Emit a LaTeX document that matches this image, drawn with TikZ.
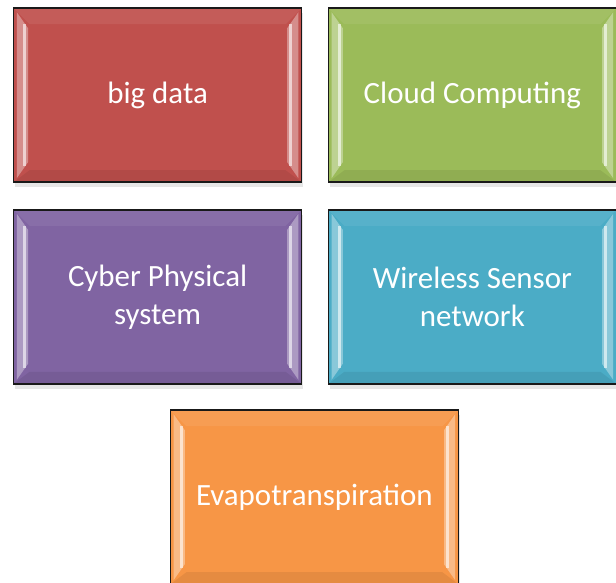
\documentclass[tikz,border=0pt]{standalone}
\usepackage{fontspec}
\setmainfont{Carlito}
\usepackage{tikz}
\usetikzlibrary{shadows}

\definecolor{tileRed}{HTML}{C0504D}
\definecolor{tileGreen}{HTML}{9BBB59}
\definecolor{tilePurple}{HTML}{8064A2}
\definecolor{tileBlue}{HTML}{4BACC6}
\definecolor{tileOrange}{HTML}{F79646}

\begin{document}
\begin{tikzpicture}[
    tile/.style={draw=black!90, line width=1.1pt, minimum width=7.2cm, minimum height=4.35cm,
      align=center, text=white, font=\fontsize{22}{27}\selectfont,
      drop shadow={opacity=0.2, shadow xshift=0.04cm, shadow yshift=-0.12cm},
      path picture={
        % top band
        \fill[white, opacity=0.07] (path picture bounding box.north west) -- (path picture bounding box.north east)
          -- ([shift={(-0.4,-0.4)}]path picture bounding box.north east) -- ([shift={(0.4,-0.4)}]path picture bounding box.north west) -- cycle;
        % left and right bevels
        \fill[white, opacity=0.35] ([shift={(0.08,-0.1)}]path picture bounding box.north west) -- ([shift={(0.36,-0.5)}]path picture bounding box.north west)
          -- ([shift={(0.36,0.5)}]path picture bounding box.south west) -- ([shift={(0.08,0.1)}]path picture bounding box.south west) -- cycle;
        \fill[white, opacity=0.35] ([shift={(-0.08,-0.1)}]path picture bounding box.north east) -- ([shift={(-0.36,-0.5)}]path picture bounding box.north east)
          -- ([shift={(-0.36,0.5)}]path picture bounding box.south east) -- ([shift={(-0.08,0.1)}]path picture bounding box.south east) -- cycle;
        \fill[white, opacity=0.6] ([shift={(0.24,-0.4)}]path picture bounding box.north west) rectangle ([shift={(0.32,0.4)}]path picture bounding box.south west);
        \fill[white, opacity=0.6] ([shift={(-0.24,-0.4)}]path picture bounding box.north east) rectangle ([shift={(-0.32,0.4)}]path picture bounding box.south east);
        % bottom band
        \fill[black, opacity=0.07] (path picture bounding box.south west) -- (path picture bounding box.south east)
          -- ([shift={(-0.4,0.3)}]path picture bounding box.south east) -- ([shift={(0.4,0.3)}]path picture bounding box.south west) -- cycle;
      }}
  ]
    \useasboundingbox (0,0) rectangle (15.4,-14.575);

    \node[tile, fill=tileRed]    (bigdata)  at (3.94,-2.38)  {big data};
    \node[tile, fill=tileGreen]  (cloud)    at (11.81,-2.38) {Cloud Computing};
    \node[tile, fill=tilePurple] (cyber)    at (3.94,-7.42)  {Cyber Physical\\system};
    \node[tile, fill=tileBlue]   (wsn)      at (11.81,-7.42) {Wireless Sensor\\network};
    \node[tile, fill=tileOrange] (evapo)    at (7.86,-12.43) {Evapotranspiration};
  \end{tikzpicture}
\end{document}
